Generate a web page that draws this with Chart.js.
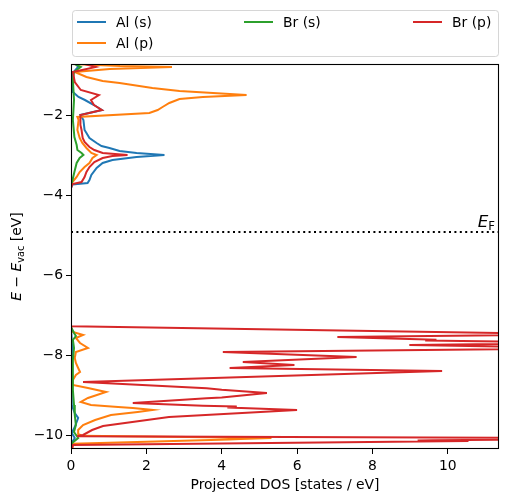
<!DOCTYPE html>
<html>
<head>
<meta charset="utf-8">
<script src="https://cdn.jsdelivr.net/npm/chart.js@4/dist/chart.umd.min.js"></script>
<style>
  body { margin: 0; background: #fff; }
  canvas { display: block; }
</style>
</head>
<body>
<canvas id="dosChart" width="507" height="502"></canvas>
<script>
// energies E - E_vac [eV] and projected DOS [states / eV]
const alS_E   = [-0.6, -0.725, -0.8, -0.95, -1.425, -1.55, -1.625, -1.75, -1.875, -2.0, -2.125, -2.375, -2.45, -2.575, -2.7, -2.775, -2.825, -2.9, -2.95, -3.0, -3.05, -3.125, -3.2, -3.325, -3.5, -3.625, -3.7, -3.74, -3.825,
                 -7.3, -7.8, -8.6, -9.25, -9.45, -9.575, -9.8, -9.95, -10.075, -10.2, -10.5];
const alS_dos = [0.1, 0.13, 0.19, 0.05, 0.05, 0.2, 0.37, 0.61, 0.82, 0.25, 0.33, 0.36, 0.41, 0.49, 0.68, 0.81, 1.02, 1.29, 1.74, 2.48, 1.74, 1.10, 0.84, 0.68, 0.54, 0.49, 0.44, 0.04, 0,
                 0, 0.03, 0.02, 0.02, 0.1, 0.19, 0.1, 0.02, 0.1, 0.02, 0];

const alP_E   = [-0.6, -0.725, -0.775, -0.8, -0.85, -0.925, -1.05, -1.15, -1.2, -1.325, -1.4, -1.5, -1.55, -1.6, -1.7, -1.8, -1.875, -1.95, -2.05, -2.125, -2.375, -2.575, -2.7, -2.825, -2.95, -3.0, -3.075, -3.2, -3.3, -3.425, -3.55, -3.675, -3.775,
                 -7.3, -7.425, -7.5, -7.575, -7.7, -7.825, -7.925, -8.075, -8.2, -8.325, -8.425, -8.5, -8.625, -8.75, -8.825, -8.925, -9.075, -9.175, -9.25, -9.3, -9.325, -9.375, -9.425, -9.5, -9.625, -9.75, -9.875, -9.975, -10.02, -10.075, -10.1, -10.11, -10.22, -10.5];
const alP_dos = [0.05, 0.05, 1.3, 2.68, 1.03, 0.1, 0.41, 0.84, 1.29, 2.16, 2.88, 4.66, 3.5, 2.88, 2.61, 2.43, 2.3, 2.08, 0.17, 0.2, 0.17, 0.23, 0.3, 0.41, 0.54, 0.68, 0.57, 0.49, 0.36, 0.23, 0.15, 0.04, 0,
                 0, 0.05, 0.32, 0.13, 0.24, 0.45, 0.13, 0.10, 0.13, 0.19, 0.24, 0.13, 0.05, 0.05, 0.45, 0.93, 0.45, 0.26, 0.53, 1.25, 1.64, 2.17, 1.77, 1.06, 0.64, 0.32, 0.19, 0.19, 0.3, 5.32, 4.5, 4.2, 0.05, 0];

const brS_E   = [-0.6, -0.725, -0.8, -0.925, -1.125, -1.625, -2.125, -2.55, -2.75, -2.875, -2.95, -3.0, -3.075, -3.2, -3.425, -3.625, -3.775,
                 -7.3, -7.45, -7.525, -7.625, -7.825, -8.125, -8.875, -9.25, -9.5, -9.75, -9.925, -10.075, -10.2, -10.5];
const brS_dos = [0.05, 0.1, 0.26, 0.08, 0.05, 0.08, 0.05, 0.09, 0.15, 0.17, 0.28, 0.33, 0.23, 0.15, 0.09, 0.04, 0,
                 0, 0.08, 0.13, 0.05, 0.08, 0.05, 0.05, 0.08, 0.10, 0.13, 0.08, 0.19, 0.03, 0];

const brP_E   = [-0.6, -0.725, -0.8, -0.925, -1.175, -1.375, -1.5, -1.625, -1.75, -1.875, -2.0, -2.25, -2.375, -2.575, -2.675, -2.8, -2.875, -2.95, -3.0, -3.025, -3.075, -3.175, -3.3, -3.425, -3.55, -3.675, -3.725, -3.825,
                 -7.28, -7.48, -7.55, -7.62, -7.64, -7.7, -7.75, -7.83, -7.925, -8.05, -8.175, -8.25, -8.325, -8.4, -8.675, -8.83, -8.87, -8.95, -9.06, -9.08, -9.2, -9.27, -9.29, -9.31, -9.375, -9.55, -9.775, -9.875, -10.0, -10.03, -10.09, -10.13, -10.14, -10.15, -10.25, -10.5];
const brP_dos = [0.2, 0.37, 0.66, 0.05, 0.10, 0.26, 0.74, 0.53, 0.61, 0.82, 0.25, 0.25, 0.28, 0.31, 0.36, 0.49, 0.62, 0.84, 1.5, 1.10, 0.84, 0.62, 0.49, 0.41, 0.36, 0.28, 0.04, 0,
                 0, 13.5, 7.07, 9.7, 9.4, 14, 8.98, 14, 4.03, 7.58, 4.56, 5.93, 4.21, 9.85, 0.32, 3.6, 4.0, 5.2, 4.0, 3.6, 1.64, 3.5, 4.4, 4.15, 6.0, 2.6, 0.85, 0.56, 0.32, 0.16, 17.8, 9.6, 9.2, 10.55, 0.05, 0];

const seriesLabels = ['Al (s)', 'Al (p)', 'Br (s)', 'Br (p)'];
const seriesColors = ['#1f77b4', '#ff7f0e', '#2ca02c', '#d62728'];
const seriesE   = [alS_E, alP_E, brS_E, brP_E];
const seriesDos = [alS_dos, alP_dos, brS_dos, brP_dos];

const fermiLevel = -4.925;
const xLimits = [0, 11.36];
const yLimits = [-10.35, -0.725];
const xTicks = [0, 2, 4, 6, 8, 10];
const yTicks = [-10, -8, -6, -4, -2];

const FONT = 'DejaVu Sans';
const fmt = v => v < 0 ? '\u2212' + Math.abs(v) : String(v);

// text with mixed italic / subscript pieces: [text, font, dy]
function drawRich(ctx, parts, x, y, align) {
    let w = 0;
    parts.forEach(p => { ctx.font = p[1]; w += ctx.measureText(p[0]).width; });
    let cx = align === 'center' ? x - w / 2 : (align === 'right' ? x - w : x);
    parts.forEach(p => {
        ctx.font = p[1];
        ctx.fillText(p[0], cx, y + (p[2] || 0));
        cx += ctx.measureText(p[0]).width;
    });
}

const decorations = {
    id: 'decorations',
    afterDraw(chart) {
        const ctx = chart.ctx;
        const a = chart.chartArea;
        const ys = chart.scales.y;
        ctx.save();

        // frame
        ctx.strokeStyle = '#000';
        ctx.lineWidth = 1.1;
        ctx.strokeRect(a.left + 0.5, a.top + 0.5, a.right - a.left - 1, a.bottom - a.top - 1);

        ctx.fillStyle = '#000';
        ctx.textBaseline = 'alphabetic';
        ctx.textAlign = 'left';

        // E_F label
        const yF = ys.getPixelForValue(fermiLevel);
        drawRich(ctx, [['E', 'italic 16.7px ' + FONT], ['F', '11.7px ' + FONT, 2.5]], a.right - 4, yF - 5, 'right');

        // x-axis title
        drawRich(ctx, [['Projected DOS [states / eV]', '13.9px ' + FONT]], (a.left + a.right) / 2, 489, 'center');

        // y-axis title
        ctx.save();
        ctx.translate(21, (a.top + a.bottom) / 2);
        ctx.rotate(-Math.PI / 2);
        drawRich(ctx, [
            ['E', 'italic 13.9px ' + FONT],
            [' \u2212 ', '13.9px ' + FONT],
            ['E', 'italic 13.9px ' + FONT],
            ['vac', '9.7px ' + FONT, 2.5],
            [' [eV]', '13.9px ' + FONT]
        ], 0, 0, 'center');
        ctx.restore();

        // legend (3 columns, filled column-wise)
        ctx.beginPath();
        ctx.roundRect(72.5, 10.5, 426, 46, 3);
        ctx.fillStyle = 'rgba(255,255,255,0.8)';
        ctx.fill();
        ctx.strokeStyle = 'rgba(204,204,204,0.8)';
        ctx.lineWidth = 1;
        ctx.stroke();
        const slots = [[77, 22], [77, 43], [244, 22], [413, 22]];
        ctx.font = '13.9px ' + FONT;
        ctx.textBaseline = 'middle';
        seriesLabels.forEach((lab, i) => {
            const [x0, y0] = slots[i];
            ctx.strokeStyle = seriesColors[i];
            ctx.lineWidth = 2;
            ctx.beginPath();
            ctx.moveTo(x0, y0);
            ctx.lineTo(x0 + 29, y0);
            ctx.stroke();
            ctx.fillStyle = '#000';
            ctx.fillText(lab, x0 + 39, y0 + 1);
        });
        ctx.restore();
    }
};

const datasets = seriesE.map((E, i) => ({
    label: seriesLabels[i],
    data: E.map((e, j) => ({ x: seriesDos[i][j], y: e })),
    borderColor: seriesColors[i],
    backgroundColor: seriesColors[i],
    borderWidth: 2,
    pointRadius: 0,
    showLine: true,
    fill: false,
    tension: 0,
    order: 3 - i
}));

// Fermi level
datasets.push({
    label: 'E_F',
    data: [{ x: xLimits[0], y: fermiLevel }, { x: xLimits[1], y: fermiLevel }],
    borderColor: '#000',
    borderWidth: 2,
    borderDash: [2, 3.4],
    pointRadius: 0,
    showLine: true,
    order: -1
});

new Chart(document.getElementById('dosChart'), {
    type: 'scatter',
    data: { datasets: datasets },
    options: {
        responsive: false,
        devicePixelRatio: 1,
        animation: false,
        layout: { padding: { top: 64, right: 8, left: 0, bottom: 0 } },
        plugins: { legend: { display: false }, tooltip: { enabled: false } },
        scales: {
            x: {
                type: 'linear',
                min: xLimits[0],
                max: xLimits[1],
                afterFit: s => { s.height = 53; },
                afterBuildTicks: s => { s.ticks = xTicks.map(v => ({ value: v })); },
                grid: { drawOnChartArea: false, drawTicks: true, tickLength: 5, color: '#000' },
                border: { display: false },
                ticks: { color: '#000', padding: 4, maxRotation: 0, font: { family: FONT, size: 13.9 }, callback: fmt }
            },
            y: {
                type: 'linear',
                min: yLimits[0],
                max: yLimits[1],
                afterFit: s => { s.width = 71; },
                afterBuildTicks: s => { s.ticks = yTicks.map(v => ({ value: v })); },
                grid: { drawOnChartArea: false, drawTicks: true, tickLength: 5, color: '#000' },
                border: { display: false },
                ticks: { color: '#000', padding: 3, font: { family: FONT, size: 13.9 }, callback: fmt }
            }
        }
    },
    plugins: [decorations]
});
</script>
</body>
</html>
